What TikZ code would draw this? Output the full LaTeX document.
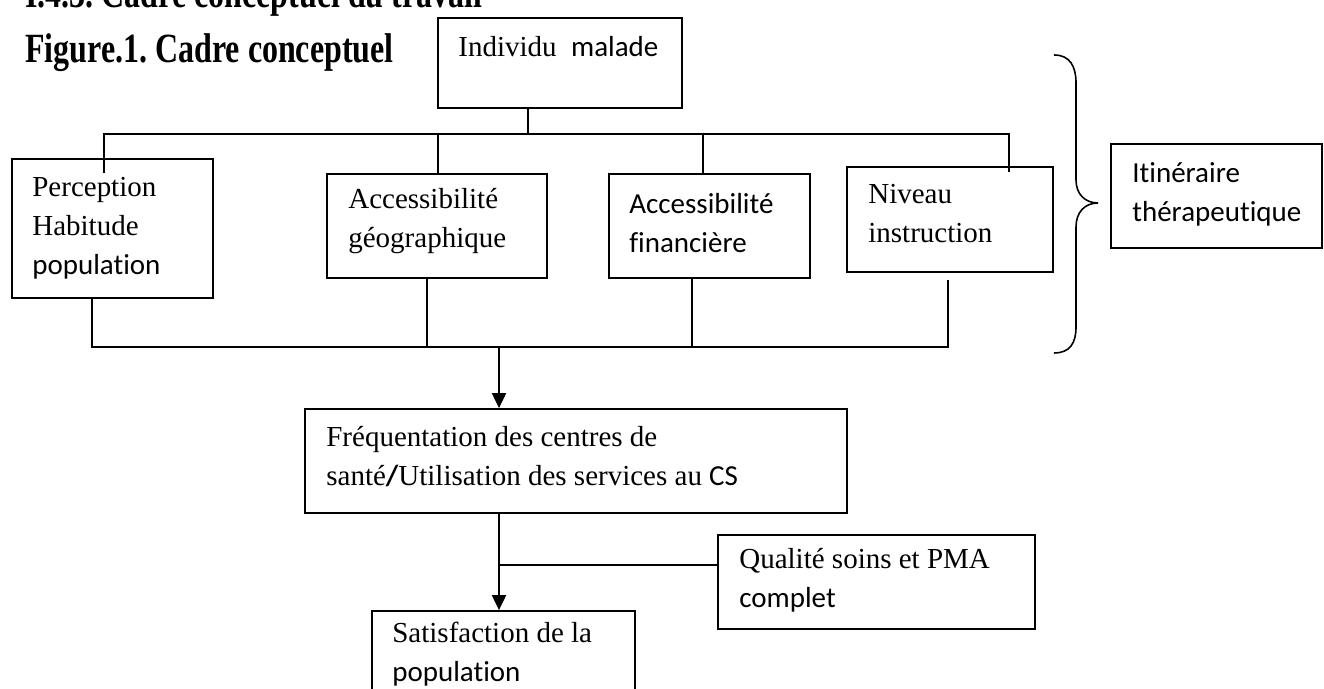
\documentclass[tikz,border=0pt]{standalone}
\usepackage{fontspec}
\setmainfont{Liberation Serif}
\newfontfamily\calibri[Ligatures=NoCommon]{Carlito}
\usetikzlibrary{arrows.meta}
\frenchspacing

\begin{document}
\begin{tikzpicture}[
  boite/.style={draw=black,line width=1pt,inner sep=0pt},
  texte/.style={anchor=base west,inner sep=0pt,align=left,font=\fontsize{16.5}{22.2}\selectfont},
  titre/.style={anchor=base west,inner sep=0pt,font=\fontsize{18.2}{22}\selectfont\bfseries},
  trait/.style={line width=0.85pt},
  fleche/.style={line width=1.15pt,-{Triangle[length=0.3cm,width=0.28cm]}}
]
\useasboundingbox (0,0) rectangle (26.48,13.78);

\node[titre] (titre_section) at (0.5,13.62) {\scalebox{1}[1.3]{I.4.3. Cadre conceptuel du travail}};
\node[titre] (titre_figure) at (0.5,12.52) {\scalebox{1}[1.3]{Figure.1. Cadre conceptuel}};

\node[boite,minimum width=4.88cm,minimum height=1.80cm] (individu) at (11.20,12.52) {};%le malade
\node[boite,minimum width=4.02cm,minimum height=2.78cm] (perception) at (2.25,9.21) {};
\node[boite,minimum width=4.40cm,minimum height=2.08cm] (geo) at (8.74,9.26) {};
\node[boite,minimum width=4.02cm,minimum height=2.08cm] (fin) at (14.19,9.26) {};
\node[boite,minimum width=4.12cm,minimum height=2.10cm] (niveau) at (19.00,9.39) {};
\node[boite,minimum width=4.22cm,minimum height=2.08cm] (itineraire) at (24.33,9.86) {};
\node[boite,minimum width=10.84cm,minimum height=2.08cm] (frequentation) at (11.52,4.56) {};
\node[boite,minimum width=6.34cm,minimum height=1.88cm] (qualite) at (17.53,2.14) {};
\node[boite,minimum width=5.26cm,minimum height=2.00cm] (satisfaction) at (10.07,0.56) {};

%les textes (ancres sur la derniere ligne)
\node[texte] (t_individu) at (9.16,12.64) {Individu\ \ {\calibri malade}};
\node[texte] (t_perception) at (0.64,8.28) {Perception\\Habitude\\{\calibri population}};
\node[texte] (t_geo) at (6.96,8.82) {Accessibilité\\géographique};
\node[texte] (t_fin) at (12.58,8.72) {\calibri Accessibilité\\\calibri financière};
\node[texte] (t_niveau) at (17.36,8.92) {Niveau\\instruction};
\node[texte] (t_itineraire) at (22.64,9.34) {\calibri Itinéraire\\\calibri thérapeutique};
\node[texte] (t_frequentation) at (6.52,4.06) {Fréquentation des centres de\\santé{\calibri\bfseries /}Utilisation des services au {\calibri CS}};
\node[texte] (t_qualite) at (14.78,1.62) {Qualité soins et PMA\\{\calibri complet}};
\node[texte] (t_satisfaction) at (7.84,0.14) {Satisfaction de la\\{\calibri population}};

\coordinate (h_gauche) at (2.08,11.10);
\coordinate (h_individu) at (10.56,11.10);
\coordinate (h_geo) at (8.76,11.10);
\coordinate (h_fin) at (14.06,11.10);
\coordinate (h_droite) at (20.18,11.10);
\coordinate (b_gauche) at (1.84,6.84);
\coordinate (b_geo) at (8.54,6.84);
\coordinate (b_fin) at (13.84,6.84);
\coordinate (b_droite) at (18.96,6.84);
\coordinate (b_fleche) at (9.98,6.84);
\coordinate (branche) at (9.98,2.48);

\draw[trait] (individu.south -| h_individu) -- (h_individu);%vers les facteurs
\draw[trait] ([yshift=-0.3cm]perception.north -| h_gauche) -- (h_gauche) -- (h_droite) -- ([yshift=-0.12cm]niveau.north -| h_droite);
\draw[trait] (h_geo) -- (h_geo |- geo.north);
\draw[trait] (h_fin) -- (h_fin |- fin.north);

\draw[trait] (perception.south -| b_gauche) -- (b_gauche) -- (b_droite) -- ([yshift=-0.14cm]niveau.south -| b_droite);%le regroupement
\draw[trait] (geo.south -| b_geo) -- (b_geo);
\draw[trait] (fin.south -| b_fin) -- (b_fin);

\draw[fleche] (b_fleche) -- (b_fleche |- frequentation.north);
\draw[fleche] (frequentation.south -| b_fleche) -- (satisfaction.north -| b_fleche);
\draw[trait] (branche) -- (branche -| qualite.west);%la qualite des soins

\draw[line width=0.9pt] (21.08,12.68) .. controls (21.40,12.68) and (21.52,12.45) .. (21.52,12.12) -- (21.52,10.18) .. controls (21.52,9.90) and (21.70,9.72) .. (21.96,9.72) .. controls (21.70,9.72) and (21.52,9.54) .. (21.52,9.24) -- (21.52,7.24) .. controls (21.52,6.92) and (21.40,6.72) .. (21.08,6.72);%l'accolade

\end{tikzpicture}
\end{document}
